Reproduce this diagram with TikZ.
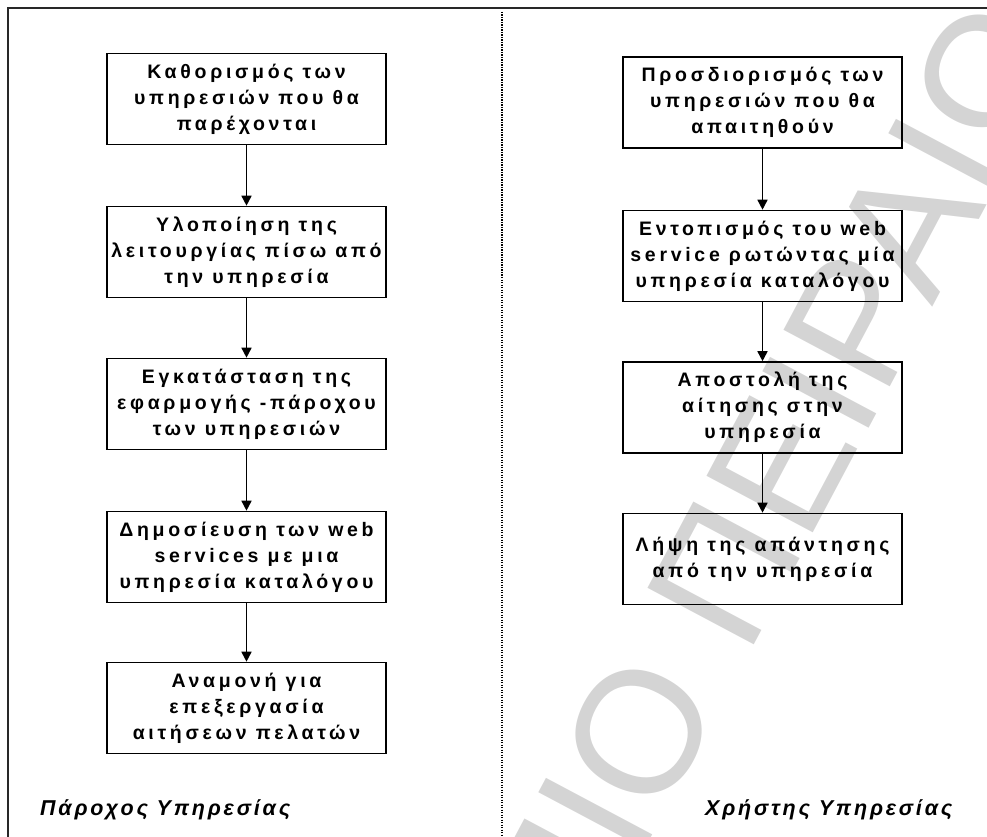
\documentclass[tikz,border=0pt]{standalone}
\usepackage{fontspec}
\setmainfont{Liberation Sans}
\newfontfamily\stepfont[LetterSpace=19]{Liberation Sans}
\newfontfamily\labelfont[LetterSpace=13]{Liberation Sans}
\newfontfamily\markfont{Liberation Sans}
\usetikzlibrary{arrows.meta}

\definecolor{framegray}{RGB}{40,40,40}
\definecolor{markgray}{RGB}{212,212,212}

\tikzset{
  stepbox/.style={draw=black, line width=1.6pt, minimum width=279pt,
    minimum height=91pt, inner sep=1pt, align=center,
    font=\stepfont\bfseries\fontsize{19.5}{26}\selectfont},
  flow/.style={line width=1.6pt, -{Triangle[width=10pt,length=10pt]}},
  sidelabel/.style={anchor=base west, inner sep=0pt,
    font=\labelfont\bfseries\itshape\fontsize{21.5}{24}\selectfont},
}

\begin{document}
\begin{tikzpicture}[x=1pt, y=-1pt]
  \useasboundingbox (0,0) rectangle (987,837);
  \clip (0,0) rectangle (987,837);

  % watermark
  \node[anchor=base west, inner sep=0pt, rotate=62, text=markgray,
        font=\markfont\fontsize{175}{175}\selectfont]
        (mark) at (569,992) {\llap{ΠΑΝΕΠΙΣΤΗ}ΜΙΟ ΠΕΙΡΑΙΩΣ};

  % frame and separator
  \draw[framegray, line width=1.8pt] (8,900) -- (8,8) -- (1000,8);
  \draw[black, line width=1.4pt, dash pattern=on 1.3pt off 1.2pt]
       (502,12) -- (502,837);

  % service provider
  \node[stepbox] (p1) at (246.5,99)  {Καθορισμός των\\υπηρεσιών που θα\\παρέχονται};
  \node[stepbox] (p2) at (246.5,252) {Υλοποίηση της\\λειτουργίας πίσω από\\την υπηρεσία};
  \node[stepbox] (p3) at (246.5,404) {Εγκατάσταση της\\εφαρμογής -πάροχου\\των υπηρεσιών};
  \node[stepbox] (p4) at (246.5,557) {Δημοσίευση των web\\services με μια\\υπηρεσία καταλόγου};
  \node[stepbox] (p5) at (246.5,708) {Αναμονή για\\επεξεργασία\\αιτήσεων πελατών};

  % service user
  \node[stepbox] (u1) at (762.5,102.5) {Προσδιορισμός των\\υπηρεσιών που θα\\απαιτηθούν};
  \node[stepbox] (u2) at (762.5,256)   {Εντοπισμός του web\\service ρωτώντας μία\\υπηρεσία καταλόγου};
  \node[stepbox] (u3) at (762.5,407.5) {Αποστολή της\\αίτησης στην\\υπηρεσία};
  \node[stepbox] (u4) at (762.5,559)   {Λήψη της απάντησης\\από την υπηρεσία};

  \draw[flow] (p1) -- (p2);
  \draw[flow] (p2) -- (p3);
  \draw[flow] (p3) -- (p4);
  \draw[flow] (p4) -- (p5);
  \draw[flow] (u1) -- (u2);
  \draw[flow] (u2) -- (u3);
  \draw[flow] (u3) -- (u4);

  \node[sidelabel] (provider) at (40,815)  {Πάροχος Υπηρεσίας};
  \node[sidelabel] (user)     at (705,815) {Χρήστης Υπηρεσίας};
\end{tikzpicture}
\end{document}
